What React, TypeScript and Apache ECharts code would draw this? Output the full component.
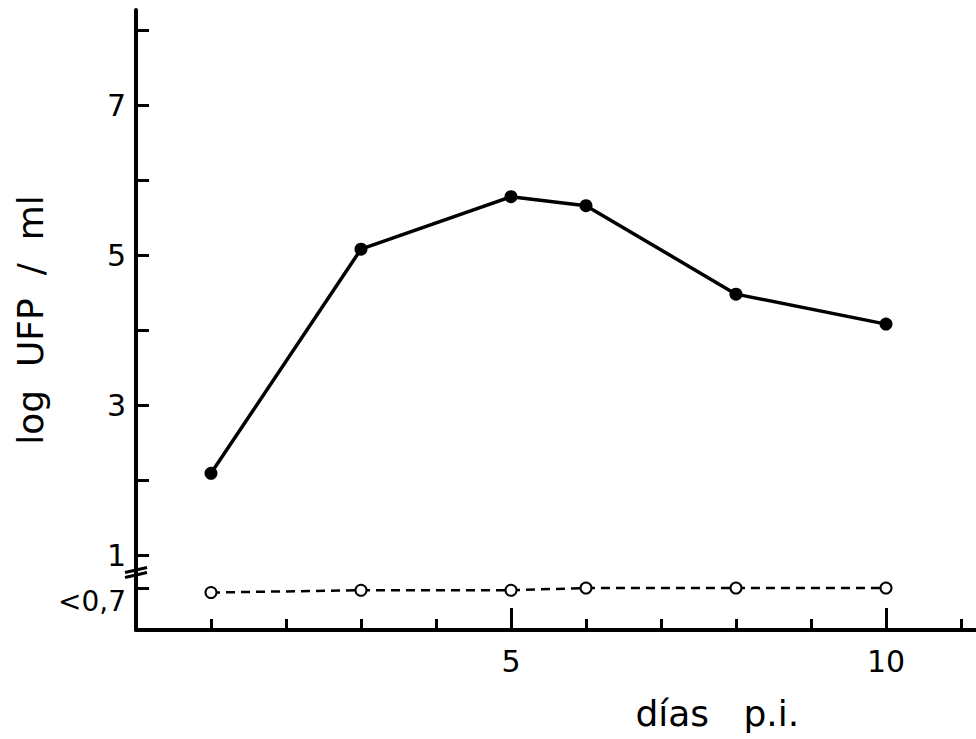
import React, { useEffect, useRef } from "react";
import * as echarts from "echarts";

// Days post infection and virus titres (log UFP/ml)
const days = [1, 3, 5, 6, 8, 10];
const infected = [2.09, 5.08, 5.78, 5.66, 4.48, 4.08];
const control = [0.5, 0.53, 0.53, 0.56, 0.56, 0.56];

// Axis ticks and labels
const xTicks = [1, 2, 3, 4, 5, 6, 7, 8, 9, 10, 11];
const xLabelled = [5, 10];
const detectionLimitValue = 0.56;
const detectionLimitText = "<0,7";
const yTicks = [detectionLimitValue, 1, 2, 3, 4, 5, 6, 7, 8];
const yLabelled = [1, 3, 5, 7];
const breakValue = 0.78;

const FONT = "DejaVu Sans";

export default function App() {
  const ref = useRef<HTMLDivElement>(null);

  useEffect(() => {
    document.body.style.margin = "0";
    const chart = echarts.init(ref.current!, null, { renderer: "svg" });
    const axisLine = { lineStyle: { color: "#000", width: 4 } };
    const tickStyle = { color: "#000", width: 3 };
    chart.setOption({
      animation: false,
      backgroundColor: "#fff",
      grid: { left: 136, right: 0, top: 10, bottom: 109 },
      xAxis: [
        {
          type: "value",
          min: 0,
          max: 11.2,
          axisLine: { ...axisLine, onZero: false },
          axisTick: { inside: true, length: 11, customValues: xTicks, lineStyle: tickStyle },
          axisLabel: { show: false },
          splitLine: { show: false },
        },
        {
          type: "value",
          min: 0,
          max: 11.2,
          position: "bottom",
          axisLine: { show: false },
          axisTick: { inside: true, length: 22, customValues: xLabelled, lineStyle: tickStyle },
          axisLabel: {
            customValues: xLabelled,
            margin: 16,
            color: "#000",
            fontFamily: FONT,
            fontSize: 30,
          },
          splitLine: { show: false },
        },
      ],
      yAxis: {
        type: "value",
        min: 0,
        max: 8.27,
        name: "log  UFP  /  ml",
        nameLocation: "middle",
        nameRotate: 90,
        nameGap: 88,
        nameTextStyle: { color: "#000", fontFamily: FONT, fontSize: 36 },
        axisLine: { ...axisLine, onZero: false },
        axisTick: { inside: true, length: 13, customValues: yTicks, lineStyle: tickStyle },
        axisLabel: {
          customValues: yLabelled,
          margin: 10,
          color: "#000",
          fontFamily: FONT,
          fontSize: 30,
        },
        splitLine: { show: false },
      },
      series: [
        {
          type: "line",
          data: days.map((d, i) => [d, infected[i]]),
          symbol: "circle",
          symbolSize: 13,
          itemStyle: { color: "#000" },
          lineStyle: { color: "#000", width: 3.5 },
          z: 3,
        },
        {
          type: "line",
          data: days.map((d, i) => [d, control[i]]),
          symbol: "emptyCircle",
          symbolSize: 11,
          itemStyle: { color: "#000", borderWidth: 2.5, borderColor: "#000" },
          lineStyle: { color: "#000", width: 2.5, type: [9, 6] },
          z: 3,
        },
      ],
    });

    const [ax, ay0] = chart.convertToPixel({ gridIndex: 0 }, [0, 0]) as number[];
    const yLim = chart.convertToPixel({ yAxisIndex: 0 }, detectionLimitValue) as number;
    const yBreak = chart.convertToPixel({ yAxisIndex: 0 }, breakValue) as number;
    const xTitle = chart.convertToPixel({ xAxisIndex: 0 }, 7.75) as number;

    chart.setOption({
      graphic: [
        {
          type: "line",
          shape: { x1: ax - 11, y1: yBreak + 6, x2: ax + 11, y2: yBreak + 1 },
          style: { stroke: "#000", lineWidth: 3 },
        },
        {
          type: "line",
          shape: { x1: ax - 11, y1: yBreak + 1, x2: ax + 11, y2: yBreak - 4 },
          style: { stroke: "#000", lineWidth: 3 },
        },
        {
          type: "text",
          x: ax - 10,
          y: yLim + 13,
          style: {
            text: detectionLimitText,
            fill: "#000",
            font: `28px "${FONT}"`,
            align: "right",
            verticalAlign: "middle",
          },
        },
        {
          type: "text",
          x: xTitle,
          y: ay0 + 83,
          style: {
            text: "días   p.i.",
            fill: "#000",
            font: `36px "${FONT}"`,
            align: "center",
            verticalAlign: "middle",
          },
        },
      ],
    });

    return () => chart.dispose();
  }, []);

  return (
    <div
      ref={ref}
      style={{ position: "fixed", left: 0, top: 0, width: 976, height: 739 }}
    />
  );
}
